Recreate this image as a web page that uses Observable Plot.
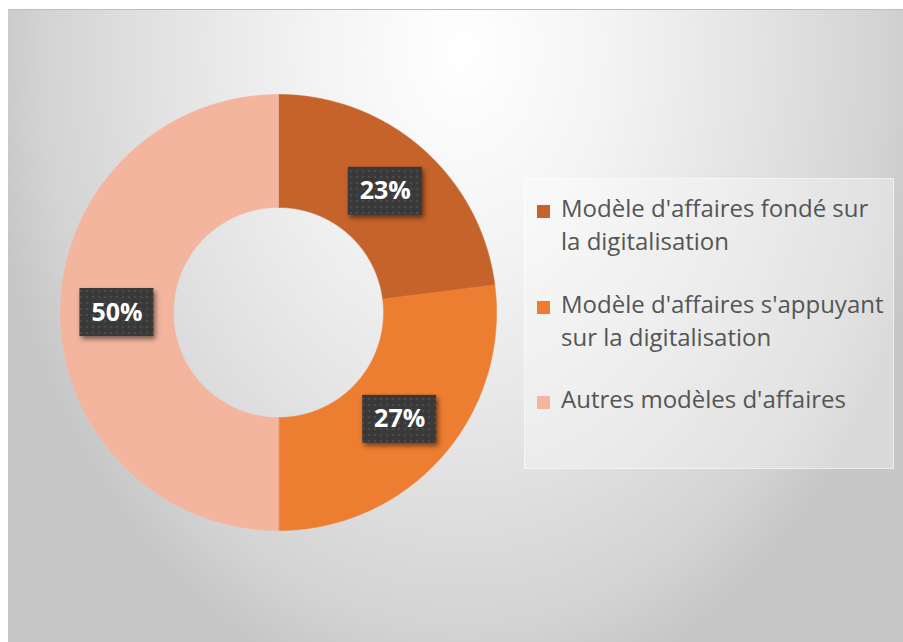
<!DOCTYPE html>
<html>
<head>
<meta charset="utf-8">
<script src="https://cdn.jsdelivr.net/npm/d3@7"></script>
<script src="https://cdn.jsdelivr.net/npm/@observablehq/plot@0.6"></script>
<style>
  html, body { margin: 0; padding: 0; background: #ffffff; }
  #wrap { position: relative; width: 903px; height: 642px; overflow: hidden; }
  #bg {
    position: absolute; left: 8px; top: 9px; right: 0; bottom: 0;
    border-top: 1px solid #bdbdbd;
    background: radial-gradient(ellipse 480px 660px at 455px 40px, #ffffff 0%, #f4f4f4 30%, #e4e4e4 60%, #d3d3d3 88%, #c6c6c6 100%);
  }
  #chart { position: absolute; left: 0; top: 0; }
  #legend {
    position: absolute; left: 524px; top: 178px; width: 370px; height: 291px;
    box-sizing: border-box;
    background: rgba(255,255,255,0.35);
    border: 1px solid rgba(255,255,255,0.5);
    font-family: "Open Sans", "Noto Sans", sans-serif;
    font-size: 24px; color: #555555;
  }
  .item { position: absolute; left: 12px; }
  .sw { position: absolute; left: 0; width: 13px; height: 13px; }
  .txt { position: absolute; left: 24px; white-space: nowrap; line-height: 33px; }
  g[aria-label="rect"] rect { filter: drop-shadow(2px 3px 2.5px rgba(0,0,0,0.5)); }
</style>
</head>
<body>
<div id="wrap">
  <div id="bg"></div>
  <div id="chart"></div>
  <div id="legend"></div>
</div>
<script>
// ---- data ----
const categories = ["Modèle d'affaires fondé sur la digitalisation", "Modèle d'affaires s'appuyant sur la digitalisation", "Autres modèles d'affaires"];
const legendLines = [["Modèle d'affaires fondé sur", "la digitalisation"], ["Modèle d'affaires s'appuyant", "sur la digitalisation"], ["Autres modèles d'affaires"]];
const values = [23, 27, 50];
const labels = ["23%", "27%", "50%"];
const colors = ["#C5632B", "#ED7D31", "#F4B59F"];

// ---- geometry (unit circle, clockwise from 12 o'clock) ----
const R_OUT = 1, R_IN = 0.482;
const total = d3.sum(values);
const ringPts = [];
const labelData = [];
let acc = 0;
values.forEach((v, i) => {
  const a0 = acc / total * 2 * Math.PI;
  const a1 = (acc + v) / total * 2 * Math.PI;
  acc += v;
  const n = Math.max(4, Math.ceil((a1 - a0) / (Math.PI / 360)));
  for (let k = 0; k <= n; k++) {
    const a = a0 + (a1 - a0) * k / n;
    ringPts.push({cat: categories[i], x: R_OUT * Math.sin(a), y: R_OUT * Math.cos(a)});
  }
  for (let k = n; k >= 0; k--) {
    const a = a0 + (a1 - a0) * k / n;
    ringPts.push({cat: categories[i], x: R_IN * Math.sin(a), y: R_IN * Math.cos(a)});
  }
  const am = (a0 + a1) / 2, rm = (R_OUT + R_IN) / 2;
  labelData.push({cat: categories[i], label: labels[i], x: rm * Math.sin(am), y: rm * Math.cos(am)});
});

const PX = 218;              // pixels per unit
const hw = 37 / PX, hh = 24 / PX;

const chart = Plot.plot({
  width: 903, height: 642,
  margin: 0,
  style: {background: "transparent", overflow: "visible"},
  x: {domain: [-1, 1], range: [278 - PX, 278 + PX], axis: null},
  y: {domain: [-1, 1], range: [312 + PX, 312 - PX], axis: null},
  color: {domain: categories, range: colors},
  marks: [
    Plot.line(ringPts, {x: "x", y: "y", z: "cat", fill: "cat", stroke: "cat", strokeWidth: 0.6, curve: "linear-closed"}),
    Plot.rect(labelData, {x1: d => d.x - hw, x2: d => d.x + hw, y1: d => d.y - hh, y2: d => d.y + hh, fill: "url(#dots)"}),
    Plot.text(labelData, {x: "x", y: "y", text: "label", fill: "white", fontSize: 25, fontWeight: "bold", fontFamily: "'Open Sans', 'Noto Sans', sans-serif"})
  ]
});

// dotted texture for label boxes
const defs = d3.select(chart).insert("defs", ":first-child");
const pat = defs.append("pattern").attr("id", "dots").attr("patternUnits", "userSpaceOnUse").attr("width", 6).attr("height", 6);
pat.append("rect").attr("width", 6).attr("height", 6).attr("fill", "#393939");
pat.append("circle").attr("cx", 3).attr("cy", 3).attr("r", 1.3).attr("fill", "#4a4a4a");

document.getElementById("chart").appendChild(chart);

// ---- legend ----
const legend = d3.select("#legend");
const itemTops = [12, 108, 203];
legendLines.forEach((lines, i) => {
  const it = legend.append("div").attr("class", "item").style("top", itemTops[i] + "px");
  it.append("div").attr("class", "sw").style("top", "14px").style("background", colors[i]);
  it.append("div").attr("class", "txt").style("top", "0px").html(lines.join("<br>"));
});
</script>
</body>
</html>
